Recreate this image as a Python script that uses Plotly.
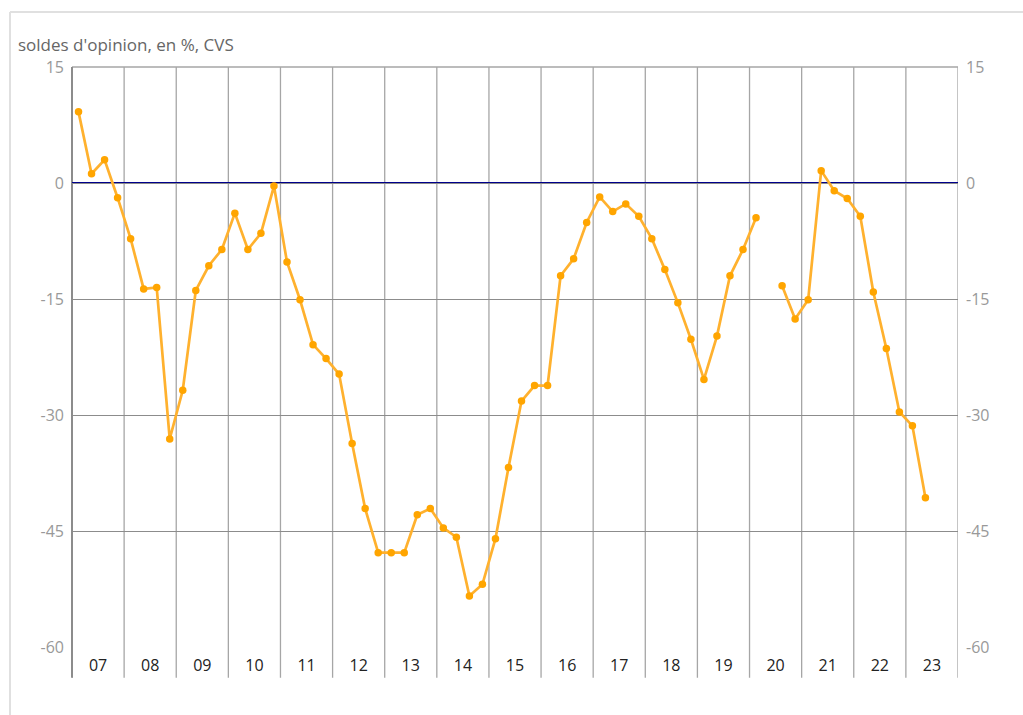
import plotly.graph_objects as go

# Data: quarterly opinion balances (%, CVS), 2007 Q1 .. 2023 Q2 (2020 Q2 missing)
years = list(range(2007, 2024))
year_labels = ["07", "08", "09", "10", "11", "12", "13", "14", "15", "16",
               "17", "18", "19", "20", "21", "22", "23"]
values = [
    9.2, 1.2, 3.0, -1.9,        # 2007
    -7.2, -13.7, -13.5, -33.1,  # 2008
    -26.8, -13.9, -10.7, -8.6,  # 2009
    -3.9, -8.6, -6.5, -0.4,     # 2010
    -10.2, -15.1, -20.9, -22.7, # 2011
    -24.7, -33.7, -42.1, -47.8, # 2012
    -47.8, -47.8, -42.9, -42.1, # 2013
    -44.6, -45.8, -53.4, -51.9, # 2014
    -46.0, -36.8, -28.2, -26.2, # 2015
    -26.2, -12.0, -9.8, -5.1,   # 2016
    -1.8, -3.7, -2.7, -4.3,     # 2017
    -7.2, -11.2, -15.5, -20.2,  # 2018
    -25.4, -19.8, -12.0, -8.6,  # 2019
    -4.5, None, -13.3, -17.6,   # 2020
    -15.1, 1.6, -1.0, -2.0,     # 2021
    -4.3, -14.1, -21.4, -29.6,  # 2022
    -31.4, -40.7,               # 2023
]
y_ticks = [15, 0, -15, -30, -45, -60]
title_text = "soldes d'opinion, en %, CVS"

# quarter positions: year + (q - 0.5)/4
x_pos = [2007 + (i + 0.5) / 4 for i in range(len(values))]

fig = go.Figure()
fig.add_trace(go.Scatter(
    x=x_pos, y=values, mode="lines+markers",
    line=dict(color="#FFB12E", width=2.7),
    marker=dict(color="#FFA500", size=7.5),
    connectgaps=False, showlegend=False, hoverinfo="x+y",
))
# invisible trace for right axis
fig.add_trace(go.Scatter(x=[2007, 2024], y=[None, None], yaxis="y2",
                         showlegend=False, hoverinfo="skip"))

shapes = []
# vertical year separators extending below the plot
for yv in years + [2024]:
    shapes.append(dict(type="line", xref="x", yref="paper", x0=yv, x1=yv,
                       y0=-0.053, y1=1,
                       line=dict(color="#A6A6A6", width=1.3), layer="below"))
# top border of plot area
shapes.append(dict(type="line", xref="paper", yref="paper", x0=0, x1=1, y0=1, y1=1,
                   line=dict(color="#A6A6A6", width=1.3), layer="below"))
# left axis line (darker)
shapes.append(dict(type="line", xref="paper", yref="paper", x0=0, x1=0, y0=-0.053, y1=1,
                   line=dict(color="#8C8C8C", width=2), layer="below"))
# zero line
shapes.append(dict(type="line", xref="paper", yref="y", x0=0, x1=1, y0=0, y1=0,
                   line=dict(color="#00008B", width=2), layer="below"))
# outer light frame (top and left)
shapes.append(dict(type="line", xref="paper", yref="paper", x0=-0.07, x1=1.075,
                   y0=1.0948, y1=1.0948, line=dict(color="#E0E0E0", width=2)))
shapes.append(dict(type="line", xref="paper", yref="paper", x0=-0.07, x1=-0.07,
                   y0=-0.12, y1=1.0948, line=dict(color="#E0E0E0", width=2)))

yaxis_common = dict(
    range=[-60, 15], tickvals=y_ticks, ticktext=[str(t) for t in y_ticks],
    gridcolor="#8C8C8C", gridwidth=1, zeroline=False,
    showline=False, ticks="", tickfont=dict(color="#999999", size=16),
    ticklabelstandoff=7, fixedrange=True,
)

fig.update_layout(
    width=1023, height=715,
    margin=dict(l=72, r=65, t=67, b=68),
    paper_bgcolor="white", plot_bgcolor="white",
    font=dict(family="Open Sans", size=16),
    xaxis=dict(range=[2007, 2024], tickvals=[y + 0.5 for y in years],
               ticktext=year_labels, showgrid=False, zeroline=False,
               showline=False, ticks="outside", ticklen=4,
               tickcolor="rgba(0,0,0,0)", tickfont=dict(color="#222222", size=16),
               fixedrange=True),
    yaxis=dict(showgrid=True, **yaxis_common),
    yaxis2=dict(overlaying="y", side="right", showgrid=False, **yaxis_common),
    shapes=shapes,
    annotations=[dict(text=title_text, xref="paper", yref="paper",
                      x=-0.0635, y=1.0385, xanchor="left", yanchor="middle",
                      showarrow=False, font=dict(color="#666666", size=17))],
)

fig.write_html("out.html", config={"displayModeBar": False},
               post_script="document.body.style.margin='0';document.body.style.padding='0';")
